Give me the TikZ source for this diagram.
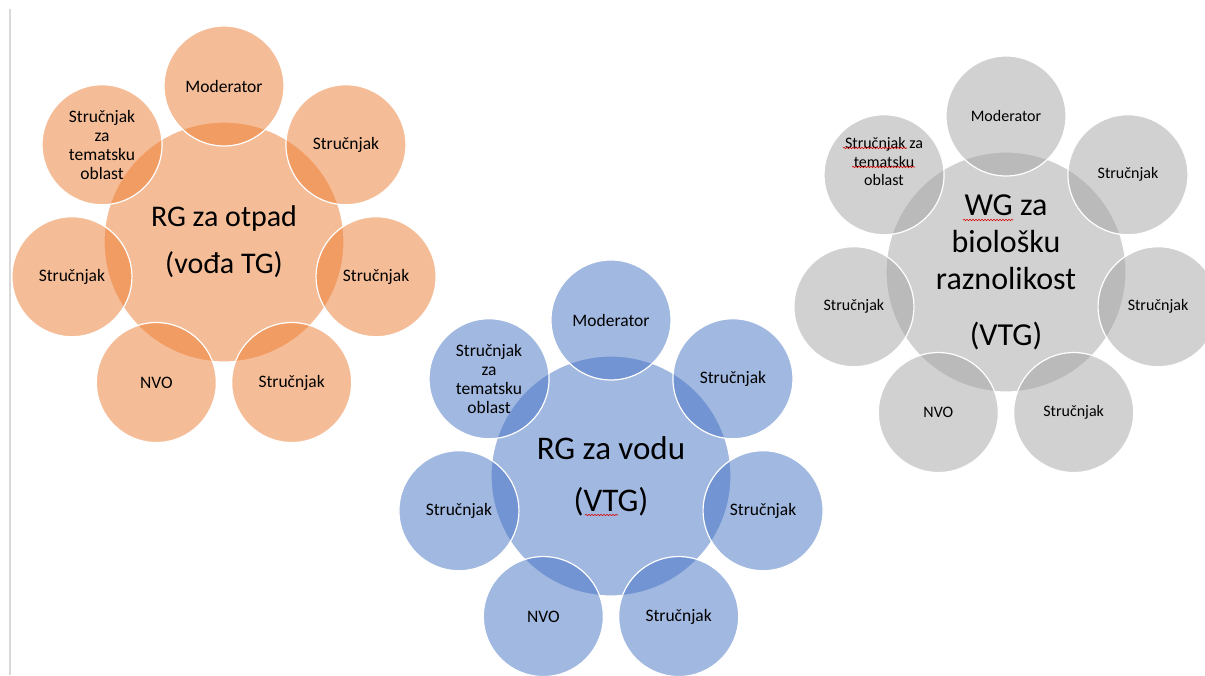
\documentclass[tikz,border=0pt]{standalone}
\usepackage{fontspec}
\setmainfont{Carlito}
\usetikzlibrary{calc,decorations.pathmorphing}
\definecolor{oFill}{HTML}{ED7D31}
\definecolor{bFill}{HTML}{4472C4}
\definecolor{gFill}{HTML}{A5A5A5}
\definecolor{rule}{HTML}{D9D9D9}
\tikzset{
  base/.style={circle, draw=white, line width=1.2pt, fill opacity=0.5, text opacity=1,
               inner sep=0pt, text=black, align=center},
  hub/.style={base, minimum size=240pt},
  sat/.style={base, minimum size=120pt},
  satO/.style={sat, fill=oFill, font=\fontsize{17.5}{19}\selectfont},
  satB/.style={sat, fill=bFill, font=\fontsize{17.5}{19}\selectfont},
  satG/.style={sat, fill=gFill, font=\fontsize{16}{18.5}\selectfont},
  squig/.style={draw=red!85!black, line width=0.6pt,
               decorate, decoration={snake, segment length=3pt, amplitude=0.7pt}},
}
\begin{document}
\begin{tikzpicture}[x=1pt,y=1pt]
\useasboundingbox (0,0) rectangle (1205,675);
\clip (0,0) rectangle (1205,675);
\fill[white] (0,0) rectangle (1205,675);

% left rule
\coordinate (ruleTop) at (10,666);
\coordinate (ruleBot) at (10,0);
\draw[rule, line width=2pt] (ruleTop) -- (ruleBot);

% ---------- orange cluster ----------
\node[hub, fill=oFill, font=\fontsize{30}{47}\selectfont] (oc) at (224,433) {RG za otpad\\(vođa TG)};
\node[satO] (o1) at ($(oc)+(90:156pt)$) {Moderator};
\node[satO] (o2) at ($(oc)+(38.57:156pt)$) {Stručnjak};
\node[satO] (o3) at ($(oc)+(-12.86:156pt)$) {Stručnjak};
\node[satO] (o4) at ($(oc)+(-64.29:156pt)$) {Stručnjak};
\node[satO] (o5) at ($(oc)+(-115.71:156pt)$) {NVO};
\node[satO] (o6) at ($(oc)+(-167.14:156pt)$) {Stručnjak};
\node[satO] (o7) at ($(oc)+(141.43:156pt)$) {Stručnjak\\za\\tematsku\\oblast};

% ---------- blue cluster ----------
\node[hub, fill=bFill, font=\fontsize{33}{52}\selectfont] (bc) at (611,199) {RG za vodu\\(VTG)};
\node[satB] (b1) at ($(bc)+(90:156pt)$) {Moderator};
\node[satB] (b2) at ($(bc)+(38.57:156pt)$) {Stručnjak};
\node[satB] (b3) at ($(bc)+(-12.86:156pt)$) {Stručnjak};
\node[satB] (b4) at ($(bc)+(-64.29:156pt)$) {Stručnjak};
\node[satB] (b5) at ($(bc)+(-115.71:156pt)$) {NVO};
\node[satB] (b6) at ($(bc)+(-167.14:156pt)$) {Stručnjak};
\node[satB] (b7) at ($(bc)+(141.43:156pt)$) {Stručnjak\\za\\tematsku\\oblast};

% ---------- gray cluster ----------
\node[hub, fill=gFill, font=\fontsize{32}{37}\selectfont] (gc) at (1006,403) {WG za\\biološku\\raznolikost\\[19pt](VTG)};
\node[satG] (g1) at ($(gc)+(90:156pt)$) {Moderator};
\node[satG] (g2) at ($(gc)+(38.57:156pt)$) {Stručnjak};
\node[satG] (g3) at ($(gc)+(-12.86:156pt)$) {Stručnjak};
\node[satG] (g4) at ($(gc)+(-64.29:156pt)$) {Stručnjak};
\node[satG] (g5) at ($(gc)+(-115.71:156pt)$) {NVO};
\node[satG] (g6) at ($(gc)+(-167.14:156pt)$) {Stručnjak};
\node[satG] (g7) at ($(gc)+(141.43:156pt)$) {};
\node[align=center, text=black, font=\fontsize{16}{18.5}\selectfont] (g7t) at ($(g7)+(0,13)$) {Stručnjak za\\tematsku\\oblast};

% spell-check squiggles
\draw[squig] (585,160) -- (618,160);
\draw[squig] (963,455) -- (1013,455);
\draw[squig] (843,527) -- (907,527);
\draw[squig] (852,508) -- (915,508);
\end{tikzpicture}
\end{document}
